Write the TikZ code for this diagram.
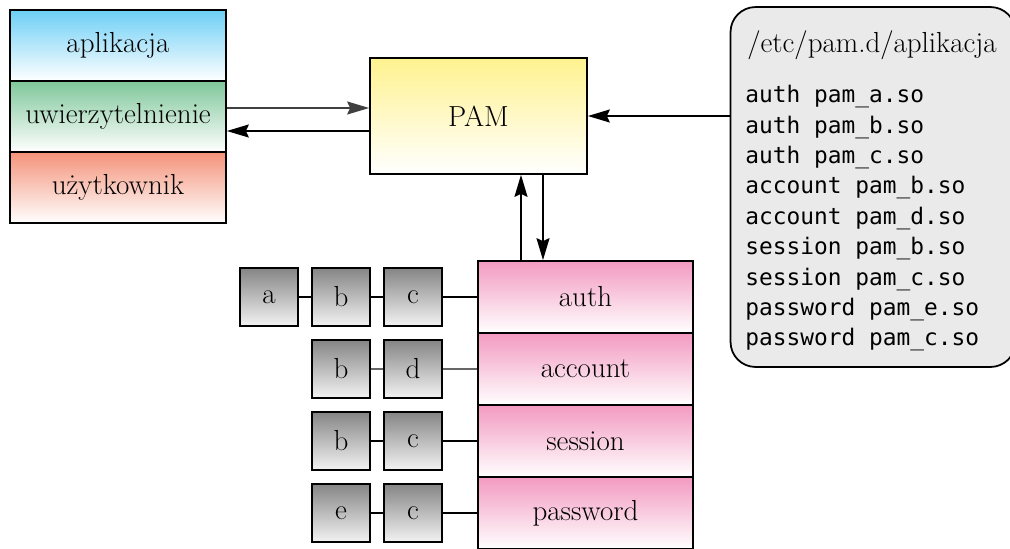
\documentclass[tikz,border=0pt]{standalone}
\usepackage{fontspec}
\setmonofont{DejaVu Sans Mono}
\usetikzlibrary{arrows.meta}

\definecolor{appblue}{HTML}{6DCFF6}
\definecolor{authgreen}{HTML}{7FC79A}
\definecolor{usersalmon}{HTML}{F4937A}
\definecolor{pamyellow}{HTML}{FFF28F}
\definecolor{pampink}{HTML}{F39AC1}
\definecolor{libgray}{HTML}{858585}
\definecolor{cfggray}{HTML}{EAEAEA}

\begin{document}
\begin{tikzpicture}[
		x=0.02cm, y=-0.02cm,
		font=\fontsize{16.5}{19}\selectfont,
		layer/.style={draw, line width=1pt, minimum width=4.32cm, minimum height=1.42cm, inner sep=0pt, bottom color=white},
		module/.style={draw, line width=1pt, minimum width=4.3cm, minimum height=1.44cm, inner sep=0pt, top color=pampink, bottom color=white},
		lib/.style={draw, line width=1pt, minimum size=1.16cm, inner sep=0pt, top color=libgray, bottom color=libgray!10},
		link/.style={line width=1pt},
		flow/.style={line width=1pt, -{Stealth[length=0.44cm,width=0.26cm,inset=0.06cm]}}
	]
	\useasboundingbox (0,0) rectangle (1010,548);

	% application stack
	\node[layer, top color=appblue] (app) at (118,45.5) {aplikacja};
	\node[layer, top color=authgreen] (authn) at (118,116.5) {uwierzytelnienie};
	\node[layer, top color=usersalmon] (user) at (118,187.5) {użytkownik};

	\node[draw, line width=1pt, minimum width=4.34cm, minimum height=2.32cm, top color=pamyellow, bottom color=white] (pam) at (478.5,116) {PAM};

	% config file
	\node[draw, line width=1pt, rounded corners=0.5cm, fill=cfggray, minimum width=5.7cm, minimum height=7.2cm] (cfg) at (873,187) {};
	\node (cfgtitle) at (872,45) {/etc/pam.d/aplikacja};
	\node[anchor=north west, align=left, inner sep=0pt, font=\ttfamily\fontsize{13}{17.3}\selectfont] (cfglist) at (745,85) {%
		auth pam\_a.so\\
		auth pam\_b.so\\
		auth pam\_c.so\\
		account pam\_b.so\\
		account pam\_d.so\\
		session pam\_b.so\\
		session pam\_c.so\\
		password pam\_e.so\\
		password pam\_c.so};

	% module types
	\node[module] (mauth) at (585.5,297) {auth};
	\node[module] (maccount) at (585.5,369) {account};
	\node[module] (msession) at (585.5,441) {session};
	\node[module] (mpassword) at (585.5,513) {password};

	% libraries
	\node[lib] (a1) at (269,297) {a};
	\node[lib] (b1) at (341,297) {b};
	\node[lib] (c1) at (413,297) {c};
	\node[lib] (b2) at (341,369) {b};
	\node[lib] (d2) at (413,369) {d};
	\node[lib] (b3) at (341,441) {b};
	\node[lib] (c3) at (413,441) {c};
	\node[lib] (e4) at (341,513) {e};
	\node[lib] (c4) at (413,513) {c};

	\draw[link] (a1) -- (b1) -- (c1) -- (mauth);
	\draw[link, line width=0.7pt, draw=black!60] (b2) -- (d2) -- (maccount);
	\draw[link] (b3) -- (c3) -- (msession);
	\draw[link] (e4) -- (c4) -- (mpassword);

	% arrows
	\draw[flow, draw=black!75] ([yshift=0.17cm]authn.east) -- ([yshift=0.17cm]authn.east -| pam.west);
	\draw[flow] ([yshift=-0.29cm]authn.east -| pam.west) -- ([yshift=-0.29cm]authn.east);
	\draw[flow] (cfg.west |- pam.east) -- (pam.east);
	\draw[flow] ([xshift=0.85cm]pam.south |- mauth.north) -- ([xshift=0.85cm]pam.south);
	\draw[flow] ([xshift=1.29cm]pam.south) -- ([xshift=1.29cm]pam.south |- mauth.north);
\end{tikzpicture}
\end{document}
